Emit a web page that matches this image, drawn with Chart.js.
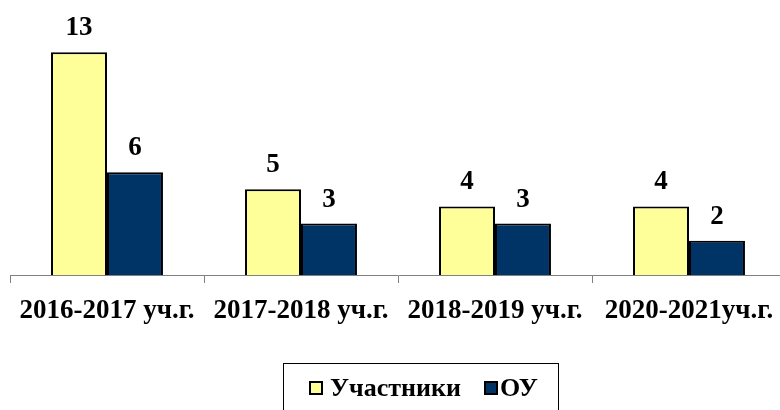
<!DOCTYPE html>
<html>
<head>
<meta charset="utf-8">
<script src="https://cdn.jsdelivr.net/npm/chart.js@4.4.0/dist/chart.umd.min.js"></script>
<style>
  html, body { margin: 0; padding: 0; background: #fff; overflow: hidden; }
  #wrap { width: 796px; height: 410px; }
</style>
</head>
<body>
<div id="wrap"><canvas id="chart"></canvas></div>
<script>
// Данные диаграммы
const years = ['2016-2017 уч.г.', '2017-2018 уч.г.', '2018-2019 уч.г.', '2020-2021уч.г.'];
const participants = [13, 5, 4, 4];
const schools = [6, 3, 3, 2];
const seriesNames = ['Участники', 'ОУ'];
const seriesColors = ['#FFFF99', '#003366'];

const serif = '"Liberation Serif", "Times New Roman", serif';

// подписи значений над столбцами
const valueLabels = {
    id: 'valueLabels',
    afterDatasetsDraw(chart) {
        const ctx = chart.ctx;
        ctx.save();
        ctx.font = 'bold 27px ' + serif;
        ctx.fillStyle = '#000';
        ctx.textAlign = 'center';
        ctx.textBaseline = 'alphabetic';
        chart.data.datasets.forEach((ds, i) => {
            chart.getDatasetMeta(i).data.forEach((bar, j) => {
                ctx.fillText(ds.data[j], bar.x, bar.y - 17);
            });
        });
        ctx.restore();
    }
};

// легенда в рамке внизу
const boxLegend = {
    id: 'boxLegend',
    afterDraw(chart) {
        const ctx = chart.ctx;
        ctx.save();
        ctx.strokeStyle = '#000';
        ctx.lineWidth = 1;
        ctx.strokeRect(283.5, 363.5, 275, 60);
        ctx.font = 'bold 26px ' + serif;
        ctx.textBaseline = 'alphabetic';
        ctx.textAlign = 'left';
        const items = [[310, 330], [485, 500]];
        chart.data.datasets.forEach((ds, i) => {
            const [bx, tx] = items[i];
            ctx.fillStyle = ds.backgroundColor;
            ctx.fillRect(bx, 382, 12, 12);
            ctx.lineWidth = 2;
            ctx.strokeRect(bx, 382, 12, 12);
            ctx.fillStyle = '#000';
            ctx.fillText(ds.label, tx, 396);
        });
        ctx.restore();
    }
};

new Chart(document.getElementById('chart').getContext('2d'), {
    type: 'bar',
    data: {
        labels: years,
        datasets: [{
            label: seriesNames[0],
            data: participants,
            backgroundColor: seriesColors[0],
            borderColor: '#000',
            borderWidth: 2
        }, {
            label: seriesNames[1],
            data: schools,
            backgroundColor: seriesColors[1],
            borderColor: '#000',
            borderWidth: 2
        }]
    },
    options: {
        responsive: true,
        maintainAspectRatio: false,
        animation: false,
        layout: { padding: { left: 10, right: 10, top: 35, bottom: 0 } },
        datasets: { bar: { categoryPercentage: 0.577, barPercentage: 1 } },
        scales: {
            x: {
                afterFit: (scale) => { scale.height = 135; },
                border: { display: true, color: '#808080', width: 1 },
                grid: {
                    display: true,
                    offset: true,
                    drawOnChartArea: false,
                    drawTicks: true,
                    tickLength: 8,
                    color: '#808080'
                },
                ticks: {
                    color: '#000',
                    font: { family: serif, size: 27, weight: 'bold' },
                    maxRotation: 0,
                    autoSkip: false,
                    padding: 12
                }
            },
            y: {
                display: false,
                min: 0,
                max: 14
            }
        },
        plugins: {
            legend: { display: false },
            tooltip: { enabled: false }
        }
    },
    plugins: [valueLabels, boxLegend]
});
</script>
</body>
</html>
